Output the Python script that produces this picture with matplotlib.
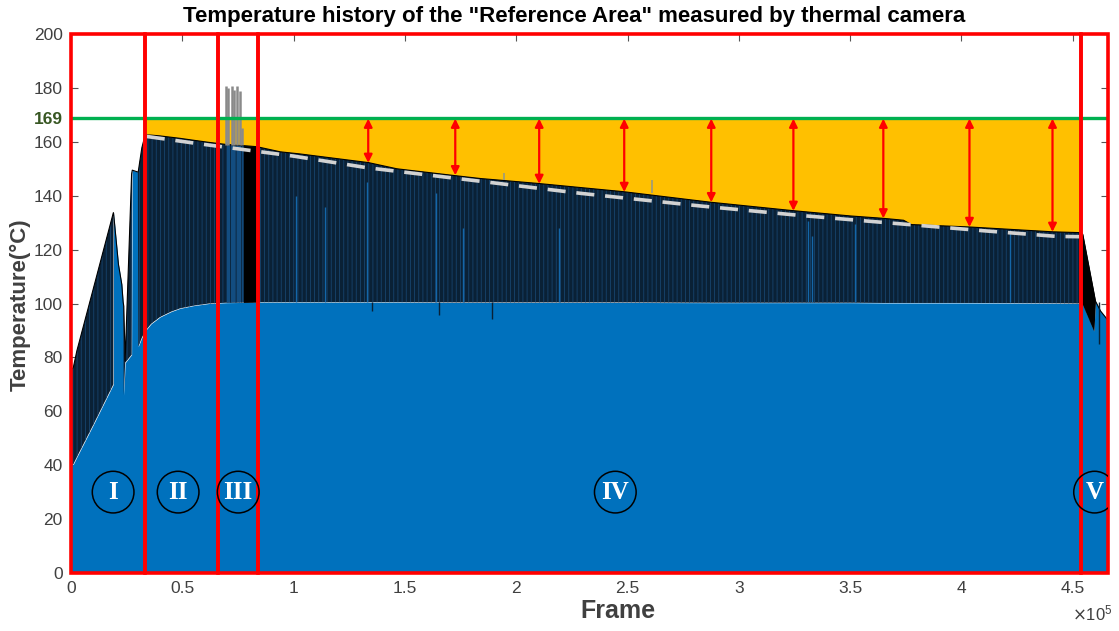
import numpy as np
import matplotlib.pyplot as plt

plt.rcParams['font.family'] = ['Liberation Sans', 'DejaVu Sans']
plt.rcParams['hatch.linewidth'] = 0.6

# frame (x 1e5), upper edge and lower edge of the recorded band (deg C)
frame = [0.000, 0.010, 0.026, 0.100, 0.190, 0.191, 0.213, 0.228, 0.234, 0.237,
         0.243, 0.272, 0.275, 0.300, 0.302, 0.318, 0.333, 0.360, 0.400, 0.450,
         0.490, 0.550, 0.620, 0.700, 0.774, 0.835, 0.940, 1.030, 1.336, 1.464,
         1.721, 1.838, 2.093, 2.482, 2.872, 3.239, 3.501, 3.651, 3.740, 3.775,
         4.037, 4.412, 4.535, 4.545, 4.595, 4.602, 4.625, 4.655, 4.660]
temp_top = [75.5, 76.2, 82.4, 105.5, 133.7, 133.5, 114.5, 107.1, 100.5, 99.0,
            78.7, 148.0, 149.5, 148.8, 149.0, 157.8, 162.6, 162.5, 162.2, 161.7,
            161.3, 160.6, 159.8, 159.0, 158.6, 158.2, 156.3, 155.5, 152.3, 150.0,
            147.5, 146.4, 144.6, 141.5, 137.6, 134.5, 132.5, 131.6, 130.9, 129.3,
            128.4, 126.6, 126.3, 125.7, 104.0, 100.9, 97.2, 94.1, 94.0]
temp_base = [40.0, 40.3, 43.0, 55.0, 70.0, 133.5, 114.5, 107.1, 100.5, 66.0,
             78.0, 81.0, 149.5, 148.8, 84.0, 87.3, 89.8, 92.5, 95.0, 97.0,
             98.2, 99.2, 100.0, 100.3, 100.4, 100.5, 100.5, 100.5, 100.5, 100.5,
             100.4, 100.4, 100.4, 100.4, 100.3, 100.3, 100.3, 100.2, 100.2, 100.2,
             100.2, 100.1, 100.0, 99.6, 89.8, 100.9, 97.2, 94.1, 94.0]

# fitted decay of the peak temperature
fit_frame = [0.34, 0.565, 1.0, 1.33, 1.846, 2.288, 2.827, 3.261, 3.576, 4.1, 4.43, 4.53]
fit_temp = [162.0, 159.4, 154.7, 150.4, 145.3, 140.9, 136.2, 132.8, 130.6, 127.0, 124.9, 124.8]

# overshoot spikes in stage III
spike_frame = [0.697, 0.707, 0.722, 0.733, 0.745, 0.760, 0.770]
spike_top = [180.7, 180.1, 180.7, 179.1, 180.7, 178.8, 165.2]
spike_base = 159.0
small_spike_frame = [1.943, 2.61]
small_spike_top = [148.5, 145.7]
small_spike_base = [146.0, 141.0]

# single cooler / hotter frames inside the band
streak_frame = [1.01, 1.14, 1.33, 1.64, 1.763, 2.19, 3.309, 3.329, 3.52, 4.22]
streak_top = [140.0, 136.0, 145.0, 141.0, 128.0, 128.0, 130.6, 125.0, 129.5, 127.0]
dip_frame = [1.354, 1.655, 1.891, 4.618]
dip_low = [97.2, 95.7, 94.1, 85.0]

limit_temp = 169
arrow_frame = [1.335, 1.726, 2.103, 2.485, 2.876, 3.245, 3.649, 4.036, 4.409]
arrow_low = [152.2, 147.6, 144.4, 141.4, 137.6, 134.4, 131.6, 128.4, 126.6]

stage_edges = [0.0, 0.333, 0.661, 0.840, 4.535, 4.66]
stage_names = ['I', 'II', 'III', 'IV', 'V']
stage_label_x = [0.189, 0.481, 0.751, 2.445, 4.598]
stage_label_y = 30

x = np.array(frame)
top = np.array(temp_top)
base = np.array(temp_base)

fig = plt.figure(figsize=(11.19, 6.31), dpi=100)
ax = fig.add_axes([0.0635, 0.092, 0.927, 0.854])

blue = '#0071BD'
navy = '#0a2136'

# margin to the limit
margin = (x >= 0.333) & (x <= 4.535)
ax.fill_between(x, top, limit_temp, where=margin, color='#FFC000', lw=0, zorder=1)

ax.fill_between(x, 0, base, color=blue, lw=0, zorder=2)
ax.fill_between(x, base, top, facecolor=navy, edgecolor='#17446e', hatch='||||',
                lw=0, zorder=2)
mid = (x >= 0.700) & (x <= 0.774)
ax.fill_between(x, base, top, where=mid, facecolor='#134d80', edgecolor=navy,
                hatch='|||', lw=0, zorder=2)
for a, b in [(0.774, 0.835), (4.535, 4.602)]:
    m = (x >= a) & (x <= b)
    ax.fill_between(x, base, top, where=m, color='black', lw=0, zorder=2)
ax.plot(x, top, color='black', lw=0.8, zorder=3)

ax.vlines(streak_frame, 100.5, streak_top, color='#1466a8', lw=1.0, zorder=3)
ax.vlines(dip_frame, dip_low, 100.5, color='#0a2136', lw=1.0, zorder=3)
ax.vlines(spike_frame, spike_base, spike_top, color='#8a8a8a', lw=1.8, zorder=3)
ax.vlines(small_spike_frame, small_spike_base, small_spike_top, color='#9a9a80',
          lw=1.2, zorder=3)

ax.plot(fit_frame, fit_temp, color='#d2d2d2', lw=2.6, dashes=(5, 3), zorder=4)

ax.axhline(limit_temp, color='#00B050', lw=2.4, zorder=5)

for xa, lo in zip(arrow_frame, arrow_low):
    ax.annotate('', xy=(xa, lo), xytext=(xa, limit_temp - 0.4),
                arrowprops=dict(arrowstyle='<|-|>', color='#FF0000', lw=1.6,
                                mutation_scale=12, shrinkA=0, shrinkB=0),
                zorder=6)

for a, b in zip(stage_edges[:-1], stage_edges[1:]):
    ax.add_patch(plt.Rectangle((a, 0), b - a, 200, fill=False, ec='#FF0000',
                               lw=2.6, zorder=7, clip_on=False))

ax.scatter(stage_label_x, [stage_label_y] * 5, s=900, facecolors='none',
           edgecolors='black', linewidths=1.1, zorder=8)
for lx, name in zip(stage_label_x, stage_names):
    ax.text(lx, stage_label_y, name, color='white', fontsize=18, fontweight='bold',
            family='Liberation Serif', ha='center', va='center', zorder=9)

ax.set_xlim(0, 4.66)
ax.set_ylim(0, 200)
xt = [0, 0.5, 1, 1.5, 2, 2.5, 3, 3.5, 4, 4.5]
ax.set_xticks(xt)
ax.set_xticklabels(['0', '0.5', '1', '1.5', '2', '2.5', '3', '3.5', '4', '4.5'])
yt = [0, 20, 40, 60, 80, 100, 120, 140, 160, limit_temp, 180, 200]
ax.set_yticks(yt)
ax.set_yticklabels([str(v) for v in yt])
ax.tick_params(direction='in', top=True, right=True, length=5, width=0.8,
               color='#555555', labelcolor='#404040', labelsize=12.5, pad=6)
for lab in ax.get_yticklabels():
    if lab.get_text() == str(limit_temp):
        lab.set_color('#385723')
        lab.set_fontweight('bold')
for s in ax.spines.values():
    s.set_visible(False)

fig.text(0.513, 0.974, 'Temperature history of the "Reference Area" measured by thermal camera',
         ha='center', va='center', fontsize=16, fontweight='bold')
fig.text(0.552, 0.032, 'Frame', ha='center', va='center', fontsize=18,
         fontweight='bold', color='#404040')
fig.text(0.018, 0.517, 'Temperature(°C)', ha='center', va='center', rotation=90,
         fontsize=16, fontweight='bold', color='#404040')
fig.text(0.994, 0.012, r'$\times\mathregular{10^5}$', ha='right', va='bottom',
         fontsize=12, color='#404040')

fig.savefig('out.png', dpi=100)
